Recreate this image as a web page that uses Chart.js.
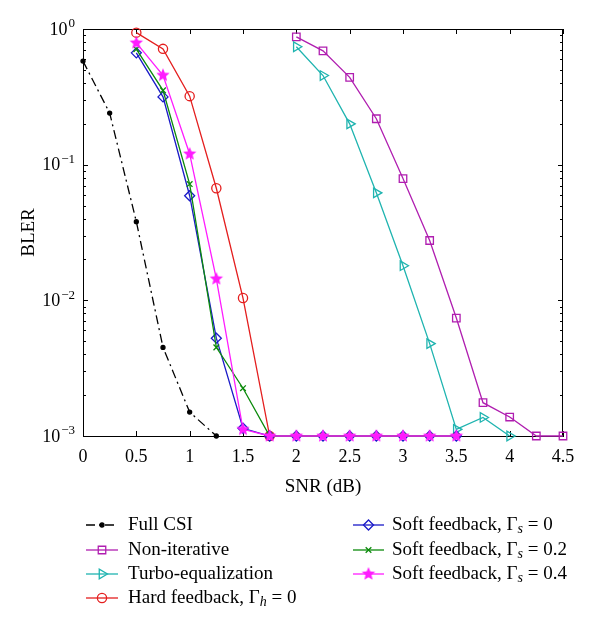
<!DOCTYPE html>
<html><head><meta charset="utf-8">
<script src="https://cdn.jsdelivr.net/npm/chart.js@4.4.1/dist/chart.umd.min.js"></script>
<style>html,body{margin:0;padding:0;background:#fff}#wrap{width:600px;height:632px}</style>
</head><body><div id="wrap"><canvas id="c" width="600" height="632"></canvas></div>
<script>
// ---- data ----
const snrFull = [0, 0.25, 0.5, 0.75, 1, 1.25];
const blerFull = [0.58, 0.24, 0.038, 0.0045, 0.0015, 0.001];
const snrNonIter = [2, 2.25, 2.5, 2.75, 3, 3.25, 3.5, 3.75, 4, 4.25, 4.5];
const blerNonIter = [0.875, 0.69, 0.44, 0.218, 0.079, 0.0276, 0.0074, 0.00176, 0.00138, 0.001, 0.001];
const snrTurbo = [2, 2.25, 2.5, 2.75, 3, 3.25, 3.5, 3.75, 4];
const blerTurbo = [0.74, 0.454, 0.2, 0.062, 0.018, 0.0048, 0.00112, 0.00137, 0.001];
const snrHard = [0.5, 0.75, 1, 1.25, 1.5, 1.75];
const blerHard = [0.94, 0.714, 0.32, 0.067, 0.0104, 0.001];
const snrSoft = [0.5, 0.75, 1, 1.25, 1.5, 1.75, 2, 2.25, 2.5, 2.75, 3, 3.25, 3.5];
const blerSoft0 = [0.667, 0.316, 0.059, 0.00526, 0.00114, 0.001, 0.001, 0.001, 0.001, 0.001, 0.001, 0.001, 0.001];
const blerSoft02 = [0.71, 0.353, 0.072, 0.0045, 0.00225, 0.001, 0.001, 0.001, 0.001, 0.001, 0.001, 0.001, 0.001];
const blerSoft04 = [0.79, 0.456, 0.12, 0.0144, 0.00112, 0.001, 0.001, 0.001, 0.001, 0.001, 0.001, 0.001, 0.001];
const xTickValues = [0, 0.5, 1, 1.5, 2, 2.5, 3, 3.5, 4, 4.5];
const yTickValues = [0.001, 0.01, 0.1, 1];
const seriesNames = ['Full CSI', 'Non-iterative', 'Turbo-equalization', 'Hard feedback, \u0393_h = 0',
  'Soft feedback, \u0393_s = 0', 'Soft feedback, \u0393_s = 0.2', 'Soft feedback, \u0393_s = 0.4'];
const xTitle = 'SNR (dB)';
const yTitle = 'BLER';

const FONT = '"Liberation Serif", "Times New Roman", serif';

function makeStar(color, r) {
  const c = document.createElement('canvas');
  const s = Math.ceil(r * 2 + 2);
  c.width = c.height = s;
  const g = c.getContext('2d');
  g.beginPath();
  for (let i = 0; i < 10; i++) {
    const a = -Math.PI / 2 + i * Math.PI / 5;
    const rr = i % 2 ? r * 0.45 : r;
    g.lineTo(s / 2 + rr * Math.cos(a), s / 2 + rr * Math.sin(a));
  }
  g.closePath();
  g.fillStyle = color;
  g.fill();
  return c;
}
const starImg = makeStar('#ff1cff', 7);

const pts = (xs, ys) => xs.map((x, i) => ({x: x, y: ys[i]}));

function ds(label, xs, ys, color, style, radius, extra) {
  return Object.assign({
    label: label, data: pts(xs, ys), borderColor: color, backgroundColor: 'rgba(0,0,0,0)',
    borderWidth: 1.3, pointStyle: style, pointRadius: radius, pointBorderColor: color,
    pointBackgroundColor: 'rgba(0,0,0,0)', pointBorderWidth: 1.3, pointRotation: 0,
    showLine: true, fill: false, tension: 0, clip: false
  }, extra || {});
}

const datasets = [
  ds(seriesNames[0], snrFull, blerFull, '#000000', 'circle', 2, {borderDash: [9, 4, 2, 4], pointBackgroundColor: '#000', order: 6}),
  ds(seriesNames[1], snrNonIter, blerNonIter, '#b01eb0', 'rect', 5.3, {order: 5}),
  ds(seriesNames[2], snrTurbo, blerTurbo, '#1fb4b0', 'triangle', 5.5, {pointRotation: 90, order: 4}),
  ds(seriesNames[3], snrHard, blerHard, '#e41e1e', 'circle', 4.6, {order: 3}),
  ds(seriesNames[4], snrSoft, blerSoft0, '#1a1ac8', 'rectRot', 5, {order: 2}),
  ds(seriesNames[5], snrSoft, blerSoft02, '#0b8a0b', 'crossRot', 4, {order: 1}),
  ds(seriesNames[6], snrSoft, blerSoft04, '#ff1cff', starImg, 7, {order: 0})
];

function drawRichText(ctx, text, x, y, size) {
  // "_c" makes c an italic subscript
  const idx = text.indexOf('_');
  ctx.textBaseline = 'middle';
  ctx.textAlign = 'left';
  ctx.font = size + 'px ' + FONT;
  if (idx < 0) { ctx.fillText(text, x, y); return; }
  const a = text.slice(0, idx), s = text.charAt(idx + 1), b = text.slice(idx + 2);
  ctx.fillText(a, x, y);
  x += ctx.measureText(a).width;
  ctx.font = 'italic ' + Math.round(size * 0.72) + 'px ' + FONT;
  ctx.fillText(s, x, y + 4);
  x += ctx.measureText(s).width;
  ctx.font = size + 'px ' + FONT;
  ctx.fillText(b, x, y);
}

const decor = {
  id: 'decor',
  beforeDatasetsDraw(chart) {
    const ctx = chart.ctx, a = chart.chartArea;
    const xs = chart.scales.x, ys = chart.scales.y;
    ctx.save();
    ctx.strokeStyle = '#000';
    ctx.lineWidth = 1;
    ctx.beginPath();
    ctx.moveTo(a.left, a.top + 0.5); ctx.lineTo(a.right, a.top + 0.5);
    ctx.moveTo(a.right - 0.5, a.top); ctx.lineTo(a.right - 0.5, a.bottom);
    // x ticks
    xs.ticks.forEach(t => {
      const px = Math.round(xs.getPixelForValue(t.value)) + 0.5;
      ctx.moveTo(px, a.bottom); ctx.lineTo(px, a.bottom - 5);
      ctx.moveTo(px, a.top); ctx.lineTo(px, a.top + 5);
    });
    // y ticks (major + minor)
    for (let e = -3; e <= 0; e++) {
      for (let m = 1; m <= 9; m++) {
        const v = m * Math.pow(10, e);
        if (v > 1.0001) break;
        const py = Math.round(ys.getPixelForValue(v)) + 0.5;
        const len = m === 1 ? 5 : 3;
        ctx.moveTo(a.left, py); ctx.lineTo(a.left + len, py);
        ctx.moveTo(a.right, py); ctx.lineTo(a.right - len, py);
      }
    }
    ctx.stroke();
    ctx.restore();
  },
  afterDraw(chart) {
    const ctx = chart.ctx, a = chart.chartArea;
    const ys = chart.scales.y;
    ctx.save();
    ctx.fillStyle = '#000';
    // y tick labels 10^e
    ys.ticks.forEach(t => {
      const e = Math.round(Math.log10(t.value));
      const py = ys.getPixelForValue(t.value);
      const expStr = e === 0 ? '0' : '\u2212' + String(-e);
      ctx.font = '13px ' + FONT;
      const we = ctx.measureText(expStr).width;
      ctx.font = '18px ' + FONT;
      const wb = ctx.measureText('10').width;
      const right = a.left - 8;
      ctx.textAlign = 'left';
      ctx.textBaseline = 'middle';
      ctx.fillText('10', right - we - wb - 1, py + 1);
      ctx.font = '13px ' + FONT;
      ctx.fillText(expStr, right - we, py - 5);
    });
    // axis titles
    ctx.font = '19px ' + FONT;
    ctx.textAlign = 'center';
    ctx.textBaseline = 'middle';
    ctx.fillText(xTitle, (a.left + a.right) / 2, 487);
    ctx.save();
    ctx.translate(29, (a.top + a.bottom) / 2);
    ctx.rotate(-Math.PI / 2);
    ctx.fillText(yTitle, 0, 0);
    ctx.restore();
    // legend
    const rows = [525, 550, 574, 598];
    const cols = [{x0: 86, x1: 118, tx: 128}, {x0: 353, x1: 384, tx: 392}];
    const place = [[0, 0], [0, 1], [0, 2], [0, 3], [1, 0], [1, 1], [1, 2]];
    chart.data.datasets.forEach((d, i) => {
      const c = cols[place[i][0]], y = rows[place[i][1]];
      ctx.save();
      ctx.strokeStyle = d.borderColor;
      ctx.lineWidth = d.borderWidth;
      ctx.setLineDash(d.borderDash || []);
      ctx.beginPath();
      ctx.moveTo(c.x0, y); ctx.lineTo(c.x1, y);
      ctx.stroke();
      ctx.setLineDash([]);
      ctx.fillStyle = d.pointBackgroundColor;
      ctx.strokeStyle = d.pointBorderColor;
      ctx.lineWidth = d.pointBorderWidth;
      Chart.helpers.drawPoint(ctx, {pointStyle: d.pointStyle, radius: d.pointRadius, rotation: d.pointRotation, borderWidth: d.pointBorderWidth}, (c.x0 + c.x1) / 2, y);
      ctx.restore();
      ctx.fillStyle = '#000';
      drawRichText(ctx, d.label, c.tx, y, 19);
    });
    ctx.restore();
  }
};

new Chart(document.getElementById('c'), {
  type: 'line',
  data: {datasets: datasets},
  options: {
    responsive: false,
    animation: false,
    layout: {padding: {left: 0, right: 37, top: 29, bottom: 166}},
    plugins: {legend: {display: false}, tooltip: {enabled: false}},
    scales: {
      x: {
        type: 'linear', min: 0, max: 4.5,
        afterBuildTicks: s => { s.ticks = xTickValues.map(v => ({value: v})); },
        afterFit: s => { s.height = 30; },
        grid: {display: true, drawOnChartArea: false, drawTicks: false},
        border: {display: true, color: '#000', width: 1},
        ticks: {color: '#000', padding: 10, maxRotation: 0, autoSkip: false,
          font: {family: FONT, size: 18}, callback: v => String(v)}
      },
      y: {
        type: 'logarithmic', min: 0.001, max: 1,
        afterBuildTicks: s => { s.ticks = yTickValues.map(v => ({value: v})); },
        afterFit: s => { s.width = 83; },
        grid: {display: true, drawOnChartArea: false, drawTicks: false},
        border: {display: true, color: '#000', width: 1},
        ticks: {display: false}
      }
    }
  },
  plugins: [decor]
});
</script>
</body></html>
